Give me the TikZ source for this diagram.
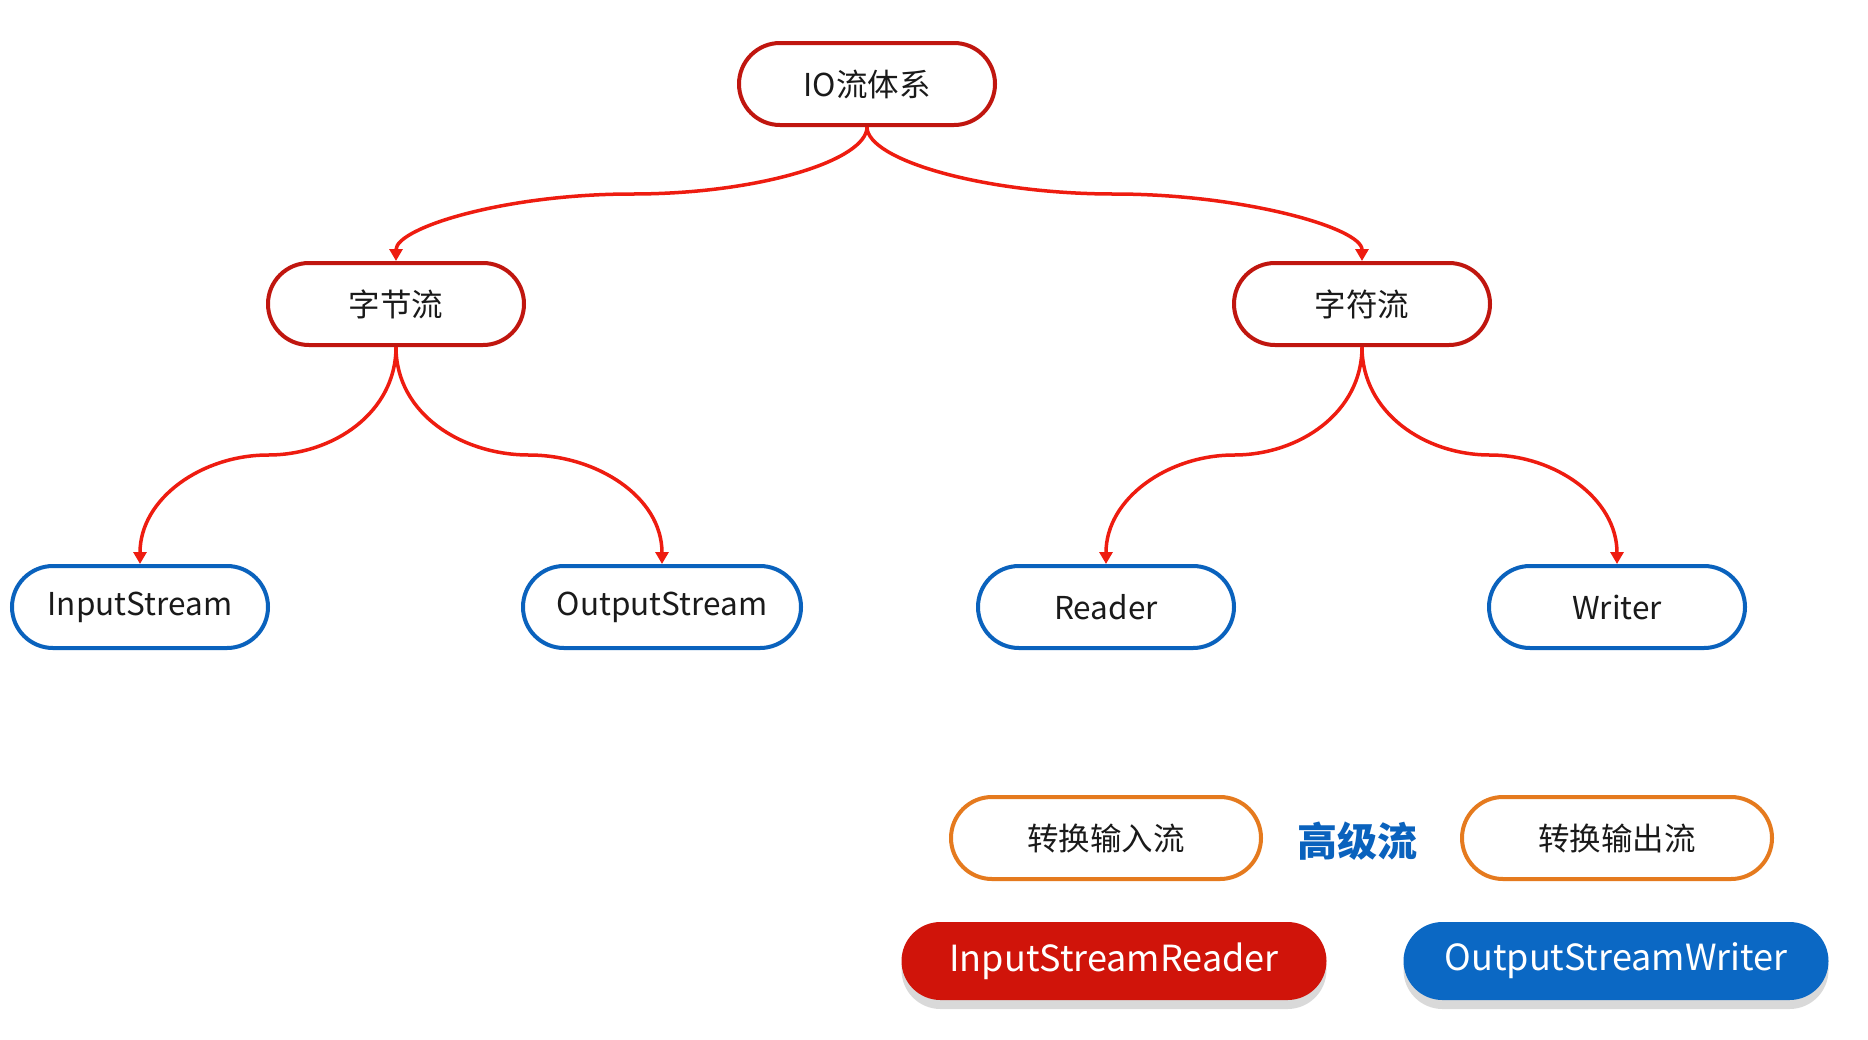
\documentclass[tikz,border=0pt]{standalone}
\usepackage{fontspec}
\setmainfont{Noto Sans CJK SC}
\newfontfamily\cjk{Noto Sans CJK SC}
\usetikzlibrary{arrows.meta,shadows}
\definecolor{boxred}{HTML}{C0160F}
\definecolor{arrred}{HTML}{EE1C10}
\definecolor{boxblue}{HTML}{0A62BD}
\definecolor{boxorange}{HTML}{E57A1E}
\definecolor{fillred}{HTML}{D0140A}
\definecolor{fillblue}{HTML}{0B68C4}
\definecolor{txt}{HTML}{1A1A1A}
\begin{document}
\begin{tikzpicture}[x=1pt,y=-1pt,
  pill/.style={draw, line width=4pt, fill=white, rounded corners=41pt, minimum height=82pt, minimum width=256pt, inner sep=0pt, text=txt, font=\cjk\fontsize{31.5}{36}\selectfont},
  redpill/.style={pill, draw=boxred},
  bluepill/.style={pill, draw=boxblue},
  orangepill/.style={pill, draw=boxorange, minimum width=310pt},
  solidpill/.style={rounded corners=39pt, minimum height=78pt, minimum width=425pt, inner sep=0pt, text=white, font=\cjk\fontsize{36}{40}\selectfont, drop shadow={shadow xshift=0pt, shadow yshift=-9pt, opacity=0.15, fill=black}},
  conn/.style={draw=arrred, line width=3.5pt, -{Triangle[length=12pt,width=13pt]}}
]
\useasboundingbox (0,0) rectangle (1868,1039);
\fill[white] (0,0) rectangle (1868,1039);

\node[redpill] (io) at (867,84) {IO流体系};
\node[redpill] (zj) at (396,304) {字节流};
\node[redpill] (zf) at (1362,304) {字符流};

\node[bluepill] (is) at (140,607) {InputStream};
\node[bluepill, minimum width=278pt] (os) at (662,607) {OutputStream};
\node[bluepill] (rd) at (1106,607) {Reader};
\node[bluepill] (wr) at (1617,607) {Writer};

\node[orangepill] (zhin) at (1106,838) {转换输入流};
\node[text=boxblue, font=\cjk\bfseries\fontsize{40}{44}\selectfont] (gj) at (1357,841) {高级流};
\node[orangepill] (zhout) at (1617,838) {转换输出流};

\node[solidpill, fill=fillred] (isr) at (1114,961) {InputStreamReader};
\node[solidpill, fill=fillblue] (osw) at (1616,961) {OutputStreamWriter};

\coordinate (m1) at (632,194);
\coordinate (m2) at (1114,194);
\coordinate (m3) at (268,455);
\coordinate (m4) at (529,455);
\coordinate (m5) at (1234,455);
\coordinate (m6) at (1490,455);

\draw[conn] (io.south) .. controls (867,160) and (760,194) .. (m1) .. controls (504,194) and (396,228) .. (zj.north);
\draw[conn] (io.south) .. controls (867,160) and (985,194) .. (m2) .. controls (1243,194) and (1362,228) .. (zf.north);
\draw[conn] (zj.south) to[out=-90,in=0] (m3) to[out=180,in=90] (is.north);
\draw[conn] (zj.south) to[out=-90,in=180] (m4) to[out=0,in=90] (os.north);
\draw[conn] (zf.south) to[out=-90,in=0] (m5) to[out=180,in=90] (rd.north);
\draw[conn] (zf.south) to[out=-90,in=180] (m6) to[out=0,in=90] (wr.north);
\end{tikzpicture}
\end{document}
